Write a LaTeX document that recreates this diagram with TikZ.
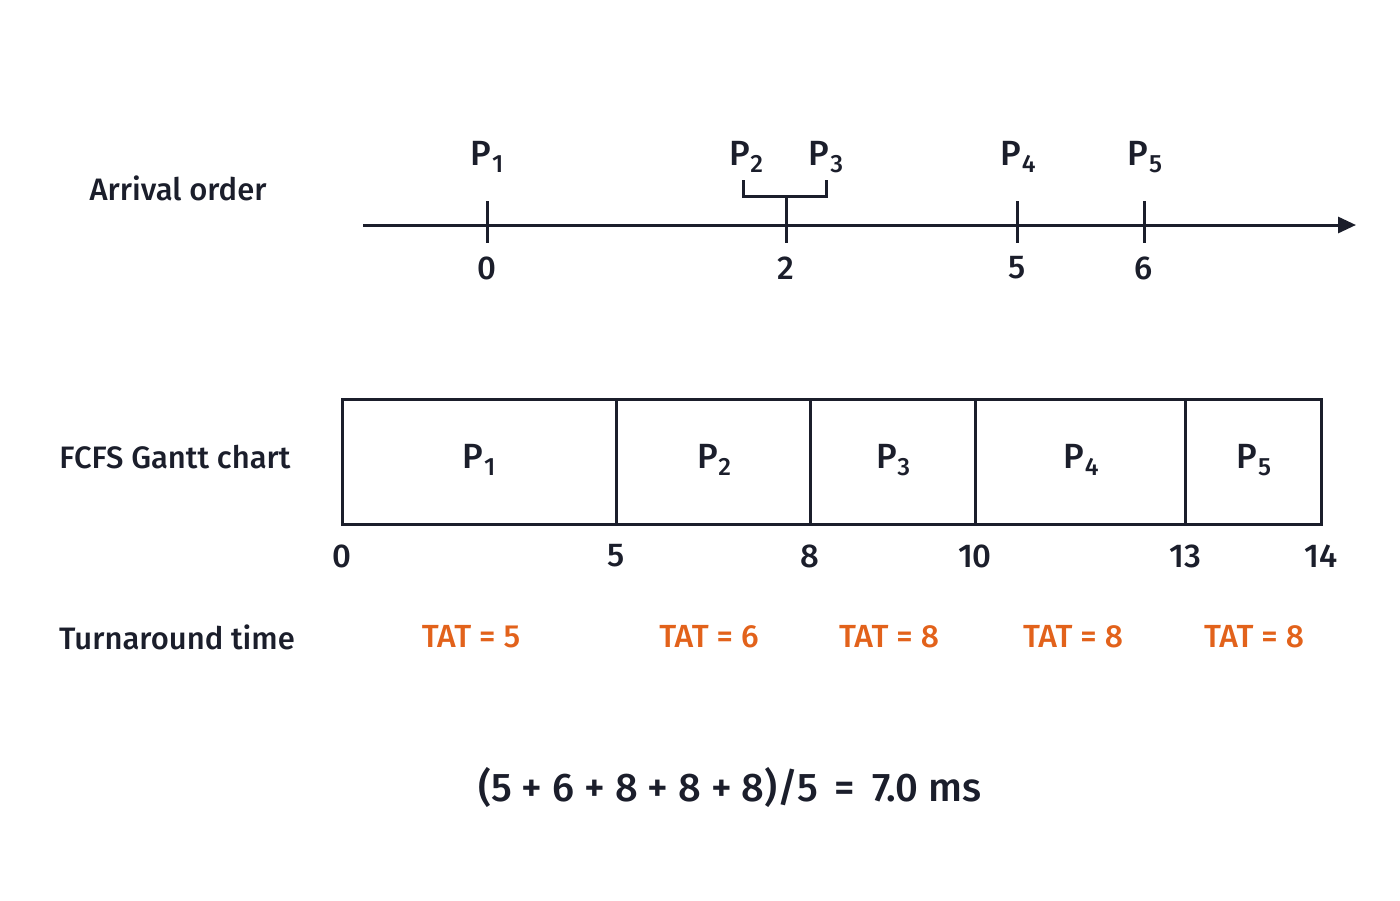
\documentclass[tikz,border=0pt]{standalone}
\usepackage{fontspec}
\setmainfont{Fira Sans}[UprightFont=* Medium]
\usetikzlibrary{arrows.meta}
\definecolor{ink}{HTML}{1B1E2B}
\definecolor{tat}{HTML}{E2621B}
\newcommand\psub[1]{P\kern0.3pt\raisebox{-0.35ex}{\fontsize{12.5}{13}\selectfont #1}}
\tikzset{
  every node/.style={text=ink, inner sep=0pt},
  lbl/.style={font=\fontsize{15.5}{18}\selectfont, anchor=center},
  pl/.style={font=\fontsize{17.5}{20}\selectfont},
  num/.style={font=\fontsize{16.5}{19}\selectfont},
  tatl/.style={font=\fontsize{16}{19}\selectfont, text=tat},
  ln/.style={draw=ink, line width=1.5pt},
}
\begin{document}
\begin{tikzpicture}[x=0.5pt,y=-0.5pt]
\useasboundingbox (0,0) rectangle (1400,900);
% arrival
\node[lbl] (arr) at (178,188) {Arrival order};
\coordinate (as) at (363,225);
\coordinate (ae) at (1356,225);
\draw[ln,-{Triangle[length=9pt,width=8pt]}] (as) -- (ae);
\foreach \x/\n in {487/a0,786/a2,1017/a5,1144/a6}{
  \coordinate (\n t) at (\x,243);
}
\coordinate (a0u) at (487,201);
\coordinate (a2u) at (786,196);
\coordinate (a5u) at (1017,201);
\coordinate (a6u) at (1144,201);
\draw[ln] (a0u) -- (a0t);
\draw[ln] (a2u) -- (a2t);
\draw[ln] (a5u) -- (a5t);
\draw[ln] (a6u) -- (a6t);
\coordinate (bl) at (743,180);
\coordinate (br) at (826,180);
\draw[ln] (bl) |- (a2u) -| (br);
\node[pl] (ap1) at (487,157) {\psub{1}};
\node[pl] (ap2) at (746,157) {\psub{2}};
\node[pl] (ap3) at (826,157) {\psub{3}};
\node[pl] (ap4) at (1018,157) {\psub{4}};
\node[pl] (ap5) at (1145,157) {\psub{5}};
\node[num] (n0) at (487,268) {0};
\node[num] (n2) at (786,268) {2};
\node[num] (n5) at (1017,268) {5};
\node[num] (n6) at (1144,268) {6};
% gantt
\node[lbl] (gl) at (175,457) {FCFS Gantt chart};
\node[ln, minimum width=489.5pt, minimum height=62.5pt, inner sep=0pt] (box) at (831.5,461.5) {};
\foreach \x/\n in {616/d1,810/d2,975/d3,1185/d4}{
  \coordinate (\n a) at (\x,399);
  \coordinate (\n b) at (\x,524);
  \draw[ln] (\n a) -- (\n b);
}
\node[pl] (g1) at (479,460) {\psub{1}};
\node[pl] (g2) at (714,460) {\psub{2}};
\node[pl] (g3) at (893,460) {\psub{3}};
\node[pl] (g4) at (1081,460) {\psub{4}};
\node[pl] (g5) at (1254,460) {\psub{5}};
\node[num] (t0) at (342,556) {0};
\node[num] (t5) at (616,556) {5};
\node[num] (t8) at (810,556) {8};
\node[num] (t10) at (975,556) {10};
\node[num] (t13) at (1185,556) {13};
\node[num] (t14) at (1321,556) {14};
% turnaround
\node[lbl] (tl) at (177,637) {Turnaround time};
\node[tatl] (k1) at (471,637) {TAT = 5};
\node[tatl] (k2) at (709,637) {TAT = 6};
\node[tatl] (k3) at (889,637) {TAT = 8};
\node[tatl] (k4) at (1073,637) {TAT = 8};
\node[tatl] (k5) at (1254,637) {TAT = 8};
% formula
\node[font=\fontsize{20}{24}\selectfont] (f) at (730,787) {(5 + 6 + 8 + 8 + 8)/5 \,=\, 7.0 ms};
\end{tikzpicture}
\end{document}
